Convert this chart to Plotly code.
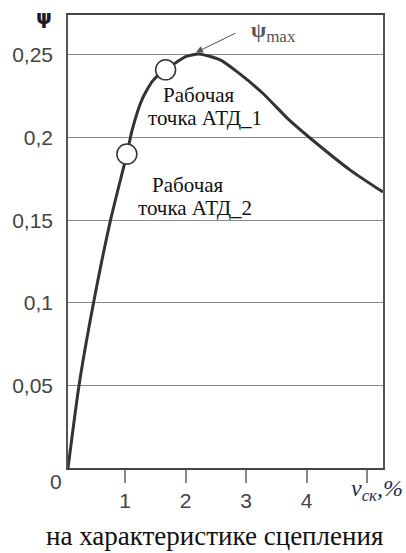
import plotly.graph_objects as go

# curve psi(v_sk)
slip = [0.058, 0.24, 0.48, 0.76, 1.03, 1.12, 1.28, 1.45, 1.67, 1.846, 2.0, 2.22, 2.57, 2.88, 3.27, 3.70, 4.08, 4.73, 5.26]
psi = [0.0, 0.05, 0.10, 0.15, 0.190, 0.205, 0.223, 0.234, 0.2415, 0.2455, 0.249, 0.2506, 0.247, 0.239, 0.227, 0.211, 0.199, 0.180, 0.167]

# working points
pt_x = [1.67, 1.03]
pt_y = [0.241, 0.190]

y_ticks = [0.05, 0.10, 0.15, 0.20, 0.25]
y_labels = ["0,05", "0,1", "0,15", "0,2", "0,25"]
x_ticks = [1, 2, 3, 4, 5]
x_labels = ["1", "2", "3", "4", ""]

fig = go.Figure()
fig.add_trace(go.Scatter(x=slip, y=psi, mode="lines",
                         line=dict(color="#333333", width=3, shape="spline", smoothing=0.6),
                         hoverinfo="skip"))
fig.add_trace(go.Scatter(x=pt_x, y=pt_y, mode="markers",
                         marker=dict(size=20, color="white", line=dict(color="#333333", width=1.5)),
                         hoverinfo="skip"))

serif = "Liberation Serif"
W, H = 406, 553
L, R, T, B = 62, 383, 15, 468

def pp(xp, yp):
    return (xp - L) / (R - L), (B - yp) / (B - T)

ann = []
for (xp, yp, t, s) in [(195, 95, "Рабочая", 21), (202, 118, "точка АТД_1", 21),
                       (184, 185, "Рабочая", 21), (191, 208, "точка АТД_2", 21),
                       (211, 536, "на характеристике сцепления", 27)]:
    ax_, ay_ = pp(xp, yp)
    ann.append(dict(x=ax_, y=ay_, xref="paper", yref="paper", text=t, showarrow=False,
                    font=dict(family=serif, size=s, color="#111111"), xanchor="center", yanchor="middle"))

# psi axis label
ax_, ay_ = pp(38, 17)
ann.append(dict(x=ax_, y=ay_, xref="paper", yref="paper", text="<b>ψ</b>", showarrow=False,
                font=dict(family="DejaVu Sans", size=20, color="#1a1a2a"), xanchor="center", yanchor="middle"))
# psi max label
ax_, ay_ = pp(271, 32)
ann.append(dict(x=ax_, y=ay_, xref="paper", yref="paper",
                text="<b>ψ</b><sub><span style='font-size:17px'>max</span></sub>", showarrow=False,
                font=dict(family=serif, size=22, color="#555555"), xanchor="center", yanchor="middle"))
# zero label
ax_, ay_ = pp(50, 482)
ann.append(dict(x=ax_, y=ay_, xref="paper", yref="paper", text="0", showarrow=False,
                font=dict(family="Liberation Sans", size=21, color="#444444"), xanchor="center", yanchor="middle"))
# x axis label
ax_, ay_ = pp(405, 490)
ann.append(dict(x=ax_, y=ay_, xref="paper", yref="paper",
                text="<i>v<sub>ск</sub>,%</i>", showarrow=False,
                font=dict(family=serif, size=24, color="#1c2d5c"), xanchor="right", yanchor="middle"))
# arrow to psi max
ann.append(dict(x=2.17, y=0.2515, xref="x", yref="y", ax=41, ay=-20, text="", showarrow=True,
                arrowhead=2, arrowsize=1.4, arrowwidth=1, arrowcolor="#555555"))

fig.update_layout(
    width=W, height=H,
    margin=dict(l=L, r=W - R, t=T, b=H - B),
    paper_bgcolor="white", plot_bgcolor="white",
    showlegend=False,
    annotations=ann,
    xaxis=dict(range=[0.058, 5.26], tickvals=x_ticks, ticktext=x_labels,
               ticks="outside", ticklen=13, tickcolor="#888888", tickwidth=1.5,
               showgrid=False, zeroline=False,
               showline=True, linecolor="#444444", linewidth=1.5, mirror=True,
               tickfont=dict(family="Liberation Sans", size=21, color="#444444"),
               ticklabelstandoff=0),
    yaxis=dict(range=[0, 0.2742], tickvals=y_ticks, ticktext=y_labels,
               ticks="", showgrid=True, gridcolor="#8a8a8a", gridwidth=1,
               zeroline=False,
               showline=True, linecolor="#555555", linewidth=1.5, mirror=True,
               tickfont=dict(family="Liberation Sans", size=21, color="#444444"),
               ticklabelstandoff=9),
)

fig.write_html("out.html", config={"displayModeBar": False},
               post_script="document.body.style.margin='0';document.body.style.padding='0';")
